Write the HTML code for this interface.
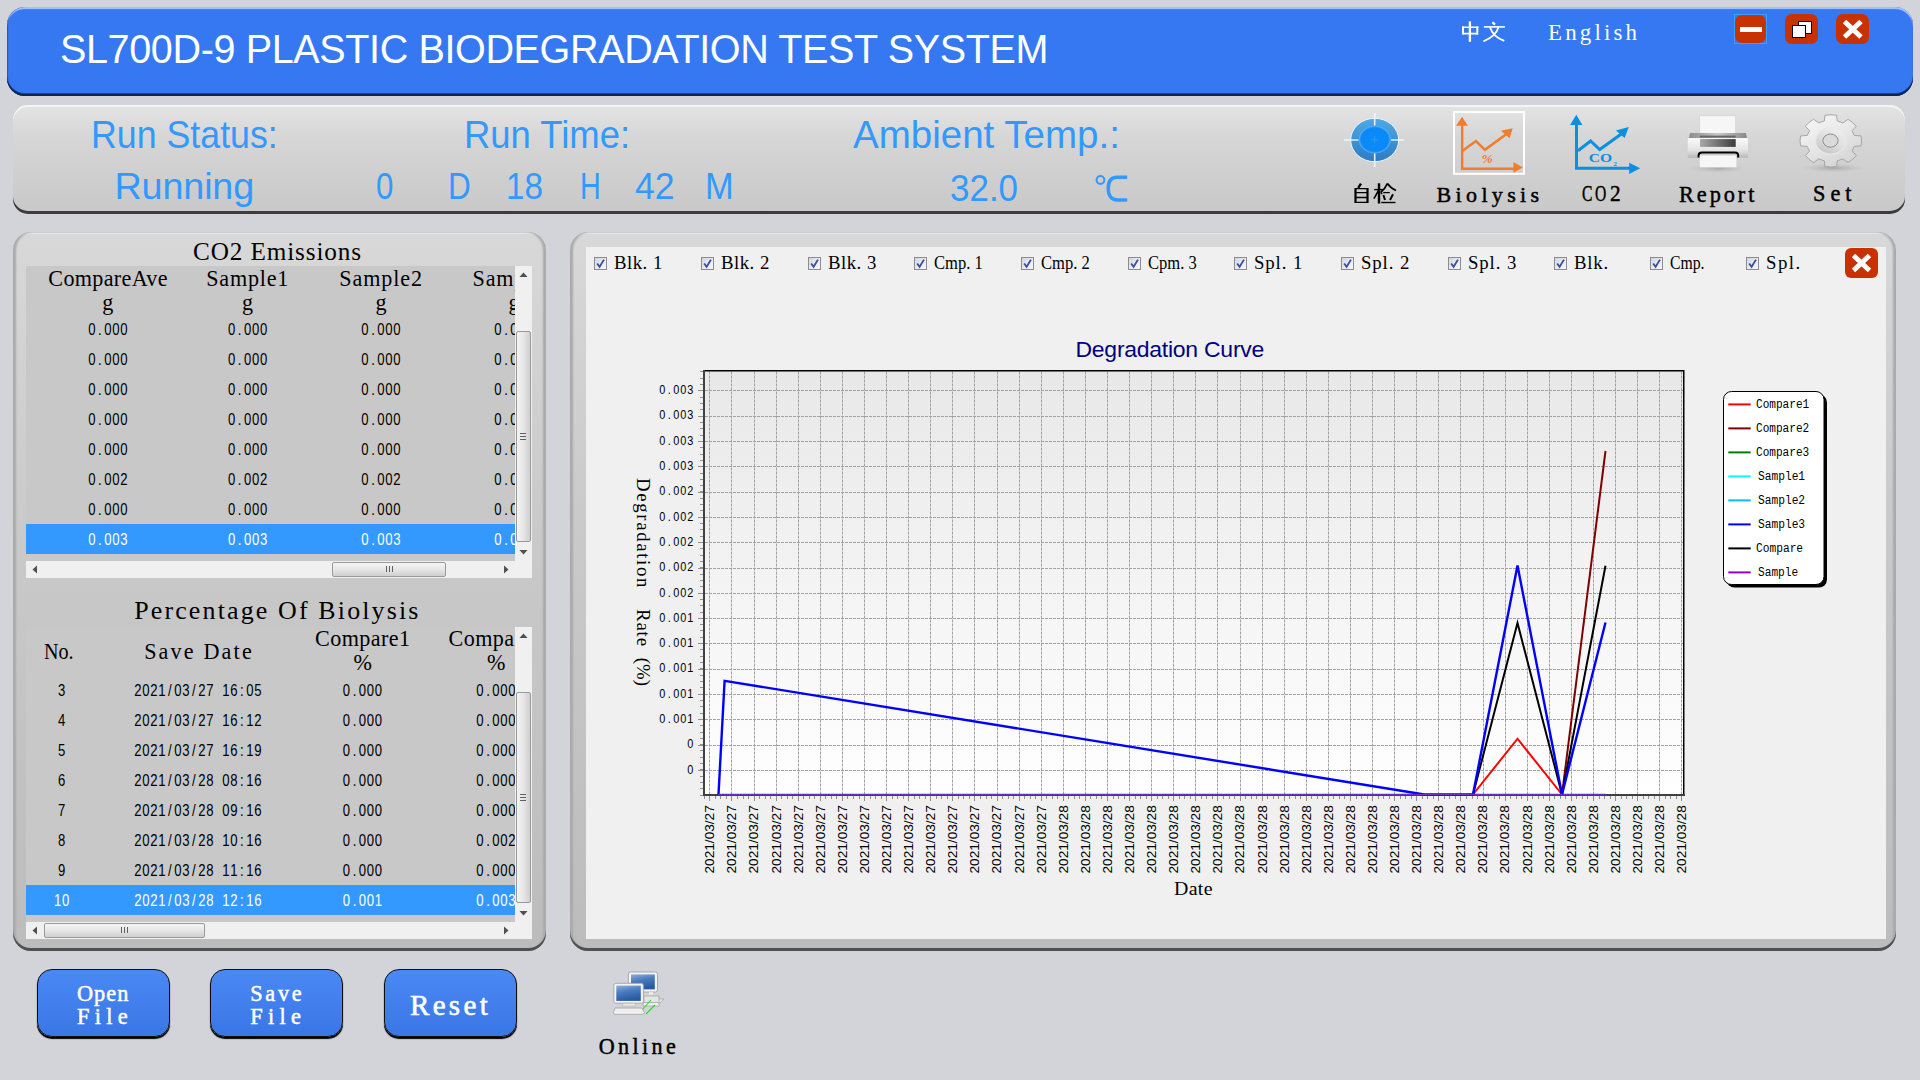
<!DOCTYPE html><html><head><meta charset="utf-8"><style>
*{box-sizing:border-box;margin:0;padding:0}
html,body{width:1920px;height:1080px;overflow:hidden}
body{background:#d3d4d9;position:relative;font-family:"Liberation Sans",sans-serif}
.a{position:absolute;white-space:nowrap}
#title{left:7px;top:7px;width:1906px;height:89px;border-radius:18px;background:#3578f2;
 box-shadow:inset 0 -2px 1px #0e2250, inset 0 -3px 0 #1e4aa0, inset 1px 0 1px rgba(10,30,80,.35), inset 0 2px 1px #a8c8ff;}
.wbtn{width:33px;height:30px;border-radius:7px;background:#c83200}
#status{left:13px;top:105px;width:1892px;height:109px;border-radius:15px;
 background:linear-gradient(#e4e4e4,#d6d6d6 30%,#c8c8c8);box-shadow:inset 0 -3px 0 #3c3c3c, inset 0 2px 0 #f4f4f4}
.panel{border-radius:18px;background:linear-gradient(#d8d8d8,#cacaca 40%,#bcbcbc);
 box-shadow:inset 0 -3px 0 #505050, inset 3px 0 2px #aaa, inset -3px 0 2px #aaa, inset 0 2px 0 #ececec}
.tbl{background:#c8c8c8;overflow:hidden}
.sel{background:#3399ff}
.vsb{background:#f0f0f0}
.thumb{background:linear-gradient(90deg,#f4f4f4,#e6e6e6 50%,#cfcfcf);border:1px solid #9a9a9a;border-radius:2px}
.thumbh{background:linear-gradient(#f4f4f4,#e6e6e6 50%,#cfcfcf);border:1px solid #9a9a9a;border-radius:2px}
.btn{width:133px;height:68px;border-radius:15px;background:linear-gradient(#4a88f4,#3a77e6);border:1px solid #101010;
 box-shadow:0 2px 1px #000, 0 1px 0 #000}
</style></head><body>
<div id="title" class="a"></div>
<div class="a" style="left:60.00px;top:26.41px;font-family:'Liberation Sans';font-size:39.54px;line-height:44.17px;color:#fff;letter-spacing:-0.37px;transform:scale(1.0000,1.0300);transform-origin:0.0px 8.59px;">SL700D-9 PLASTIC BIODEGRADATION TEST SYSTEM</div>
<svg class="a" style="left:1450px;top:15px" width="65" height="35" viewBox="1450 15 65 35">
<g fill="none" stroke="#fff" stroke-linecap="butt">
<path d="M1463 26.5V34.5M1477.3 26.5V34.5" stroke-width="2"/>
<path d="M1462 27.2H1478.5M1462.5 33.6H1478" stroke-width="1.6"/>
<path d="M1469.9 21.3V41.8" stroke-width="2.3"/>
<path d="M1492.4 22.3L1495 24.6" stroke-width="2.2"/>
<path d="M1483.9 26.9H1505" stroke-width="1.6"/>
<path d="M1498.5 27.3Q1496 36 1483.4 41.4" stroke-width="1.8"/>
<path d="M1490 27.3Q1493 37 1504.3 40.8" stroke-width="1.9"/>
</g></svg>
<div class="a" style="left:1548.00px;top:19.59px;font-family:'Liberation Serif';font-size:22.91px;line-height:25.37px;color:#fff;letter-spacing:3.17px;">English</div>
<div class="a" style="left:1734px;top:14px;width:33px;height:30px;border:1px solid #3aa0ff"></div>
<div class="a wbtn" style="left:1735px;top:15px;width:31px;height:28px"></div>
<div class="a" style="left:1740px;top:27px;width:22px;height:5px;background:#fff"></div>
<div class="a wbtn" style="left:1785px;top:14px;"></div>
<div class="a" style="left:1798px;top:21px;width:14px;height:13px;background:#fff;border:1px solid #000"></div>
<div class="a" style="left:1792px;top:25px;width:14px;height:13px;background:#fff;border:1px solid #000"></div>
<div class="a wbtn" style="left:1836px;top:14px;"></div>
<svg class="a" style="left:1836px;top:14px" width="33" height="30"><path d="M8.5 7.5L25 23M25 7.5L8.5 23" stroke="#fff" stroke-width="5"/></svg>
<div id="status" class="a"></div>
<div class="a" style="left:90.60px;top:112.63px;font-family:'Liberation Sans';font-size:38.52px;line-height:43.03px;color:#3399ff;transform:scale(0.9279,1.0000);transform-origin:0.0px 8.37px;">Run Status:</div>
<div class="a" style="left:114.50px;top:165.19px;font-family:'Liberation Sans';font-size:37.79px;line-height:42.22px;color:#3399ff;letter-spacing:-0.17px;">Running</div>
<div class="a" style="left:463.50px;top:112.63px;font-family:'Liberation Sans';font-size:38.52px;line-height:43.03px;color:#3399ff;transform:scale(0.9460,1.0000);transform-origin:0.0px 8.37px;">Run Time:</div>
<div class="a" style="left:375.60px;top:164.79px;font-family:'Liberation Sans';font-size:37.79px;line-height:42.22px;color:#3399ff;transform:scale(0.8286,1.0000);transform-origin:0.0px 8.21px;">0</div>
<div class="a" style="left:447.50px;top:164.79px;font-family:'Liberation Sans';font-size:37.79px;line-height:42.22px;color:#3399ff;transform:scale(0.8333,1.0000);transform-origin:0.0px 8.21px;">D</div>
<div class="a" style="left:506.00px;top:164.79px;font-family:'Liberation Sans';font-size:37.79px;line-height:42.22px;color:#3399ff;transform:scale(0.8810,1.0000);transform-origin:0.0px 8.21px;">18</div>
<div class="a" style="left:580.00px;top:164.79px;font-family:'Liberation Sans';font-size:37.79px;line-height:42.22px;color:#3399ff;transform:scale(0.7630,1.0000);transform-origin:0.0px 8.21px;">H</div>
<div class="a" style="left:635.00px;top:164.79px;font-family:'Liberation Sans';font-size:37.79px;line-height:42.22px;color:#3399ff;transform:scale(0.9429,1.0000);transform-origin:0.0px 8.21px;">42</div>
<div class="a" style="left:704.80px;top:164.79px;font-family:'Liberation Sans';font-size:37.79px;line-height:42.22px;color:#3399ff;transform:scale(0.9097,1.0000);transform-origin:0.0px 8.21px;">M</div>
<div class="a" style="left:853.00px;top:112.63px;font-family:'Liberation Sans';font-size:38.52px;line-height:43.03px;color:#3399ff;">Ambient Temp.:</div>
<div class="a" style="left:950.00px;top:166.79px;font-family:'Liberation Sans';font-size:37.79px;line-height:42.22px;color:#3399ff;transform:scale(0.9257,1.0000);transform-origin:0.0px 8.21px;">32.0</div>
<svg class="a" style="left:1088px;top:168px" width="46" height="38" viewBox="1088 168 46 38"><g fill="none" stroke="#3399ff">
<ellipse cx="1100.45" cy="179.95" rx="3.85" ry="3.95" stroke-width="2.1"/>
<path d="M1127.2 177.3L1117.5 177.3C1111 177.3 1108.2 182 1108.2 188.5C1108.2 195 1111 199.9 1117.5 199.9L1127.2 199.9" stroke-width="3.5"/>
</g></svg>
<svg class="a" style="left:1345px;top:178px" width="60" height="32" viewBox="1345 178 60 32">
<g fill="none" stroke="#000" stroke-linecap="butt">
<path d="M1361 183.6L1358.2 187.8" stroke-width="2.4"/>
<path d="M1355.5 188V203M1367.5 188V203" stroke-width="2.2"/>
<path d="M1355.5 188.6H1367.5M1355.5 192.6H1367.5M1355.5 197.5H1367.5M1355.5 202.4H1367.5" stroke-width="1.3"/>
<path d="M1374.2 189.6H1382.8" stroke-width="1.4"/>
<path d="M1379 183.3V203.5" stroke-width="2.4"/>
<path d="M1378.6 190.5L1373.9 198.7" stroke-width="1.6"/>
<path d="M1380.5 192.5L1382.3 194" stroke-width="1.5"/>
<path d="M1387.4 183.5Q1385 189 1380.8 192.3M1387.4 183.5Q1391 188.5 1396 190.5" stroke-width="1.8"/>
<path d="M1383.2 192.6H1389.8" stroke-width="1.3"/>
<path d="M1383.4 195L1385 200" stroke-width="2"/>
<path d="M1393 194.3L1390 200" stroke-width="2"/>
<path d="M1381.2 202.5H1395.5" stroke-width="1.4"/>
</g></svg>
<div class="a" style="left:1436.60px;top:182.60px;font-family:'Liberation Serif';font-size:21.99px;line-height:24.35px;color:#000;letter-spacing:4.34px;-webkit-text-stroke:0.45px #000">Biolysis</div>
<div class="a" style="left:1582.00px;top:182.23px;font-family:'Liberation Serif';font-size:22.30px;line-height:24.69px;color:#000;transform:scale(0.7000,1.0000);transform-origin:0.0px 5.27px;-webkit-text-stroke:0.45px #000">C</div>
<div class="a" style="left:1595.20px;top:182.23px;font-family:'Liberation Serif';font-size:22.30px;line-height:24.69px;color:#000;transform:scale(0.7000,1.0000);transform-origin:0.0px 5.27px;-webkit-text-stroke:0.45px #000">O</div>
<div class="a" style="left:1609.50px;top:182.23px;font-family:'Liberation Serif';font-size:22.30px;line-height:24.69px;color:#000;transform:scale(0.9545,1.0000);transform-origin:0.0px 5.27px;-webkit-text-stroke:0.45px #000">2</div>
<div class="a" style="left:1679.00px;top:182.53px;font-family:'Liberation Serif';font-size:22.30px;line-height:24.69px;color:#000;letter-spacing:2.94px;-webkit-text-stroke:0.45px #000">Report</div>
<div class="a" style="left:1813.00px;top:182.23px;font-family:'Liberation Serif';font-size:22.30px;line-height:24.69px;color:#000;letter-spacing:5.00px;-webkit-text-stroke:0.45px #000">Set</div>
<svg class="a" style="left:1340px;top:105px" width="70" height="70">
<defs><linearGradient id="tg" x1="0" y1="0" x2="0" y2="1"><stop offset="0" stop-color="#4eaae2"/><stop offset="1" stop-color="#2c7cc4"/></linearGradient>
<radialGradient id="tg2"><stop offset="0" stop-color="#0a8cfa"/><stop offset="0.85" stop-color="#0a88f6"/><stop offset="1" stop-color="#5ab0ff"/></radialGradient></defs>
<ellipse cx="34.7" cy="35" rx="24" ry="21.7" fill="url(#tg)" stroke="#eaf4ff" stroke-width="1"/>
<ellipse cx="34.8" cy="34.6" rx="16" ry="13.8" fill="url(#tg2)"/>
<path d="M34.7 8V20.5M34.7 48.5V62M4 35H18.5M51 35H64" stroke="#f4faff" stroke-width="1.6" opacity="0.9"/>
<path d="M34.7 31V38.5M31 34.8H38.5" stroke="#3a9ae8" stroke-width="0.8"/>
</svg>
<svg class="a" style="left:1445px;top:105px" width="90" height="75">
<rect x="9" y="7.1" width="70" height="61.7" fill="none" stroke="#fff" stroke-width="2"/>
<path d="M17.15 20V63.7H69" stroke="#f07d2d" stroke-width="2.4" fill="none"/>
<path d="M17.15 11.8L11.1 20.7H22.9Z M77.8 62.5L68.4 56.9V67.7Z" fill="#f07d2d"/>
<path d="M17.7 45.8L30.9 36.1L39.9 44.8L61.5 29" stroke="#f07d2d" stroke-width="2.5" fill="none" stroke-linejoin="miter"/>
<path d="M67.7 23.3L55.9 25.7L64.6 33.3Z" fill="#f07d2d"/>
<text x="36.5" y="57.6" font-family="Liberation Serif" font-style="italic" font-weight="bold" font-size="11.5" textLength="11.4" lengthAdjust="spacingAndGlyphs" fill="#f07d2d">%</text>
</svg>
<svg class="a" style="left:1565px;top:108px" width="80" height="70">
<path d="M11.5 16V60.3H65" stroke="#0a90e0" stroke-width="3" fill="none"/>
<path d="M11.3 6.8L5.1 17H17.4Z M75.2 60.3L64.2 54.8V66.1Z" fill="#0a90e0"/>
<path d="M13 42.8L25.6 33L34.7 41.5L57 25.5" stroke="#0a90e0" stroke-width="3" fill="none"/>
<path d="M63.8 19.1L50.9 22.4L59.6 30.1Z" fill="#0a90e0"/>
<text x="23.7" y="54.1" font-family="Liberation Serif" font-weight="bold" font-size="12.9" textLength="23.4" lengthAdjust="spacingAndGlyphs" fill="#0a90e0">CO</text>
<text x="48.4" y="57.8" font-family="Liberation Serif" font-weight="bold" font-size="6.8" fill="#0a90e0">2</text>
</svg>
<svg class="a" style="left:1680px;top:108px" width="80" height="70">
<defs>
<radialGradient id="psh" cx="0.5" cy="0.5" r="0.5"><stop offset="0" stop-color="#9a9a9a" stop-opacity="0.7"/><stop offset="1" stop-color="#bbb" stop-opacity="0"/></radialGradient>
<linearGradient id="pbody" x1="0" y1="0" x2="0" y2="1"><stop offset="0" stop-color="#fafafa"/><stop offset="0.6" stop-color="#e4e4e4"/><stop offset="1" stop-color="#b8b8b8"/></linearGradient>
<linearGradient id="pwin" x1="0" y1="0" x2="1" y2="0"><stop offset="0" stop-color="#a8a8a8"/><stop offset="1" stop-color="#3c3c3c"/></linearGradient>
<linearGradient id="ptray" x1="0" y1="0" x2="1" y2="0"><stop offset="0" stop-color="#8c8c8c"/><stop offset="0.5" stop-color="#c8c8c8"/><stop offset="1" stop-color="#888"/></linearGradient>
</defs>
<ellipse cx="38" cy="60.5" rx="30" ry="4.5" fill="url(#psh)"/>
<rect x="19.8" y="7.8" width="35.9" height="20" fill="#f6f6f6" stroke="#d0d0d0" stroke-width="0.6"/>
<path d="M10 25H66L67 30H9Z" fill="url(#ptray)"/>
<rect x="19.8" y="27.6" width="35.9" height="2" fill="#666"/>
<rect x="7.8" y="30.1" width="60.2" height="19.8" fill="url(#pbody)"/>
<rect x="20" y="31.1" width="35.7" height="7.8" fill="url(#pwin)"/>
<path d="M18.6 49.5V47.5Q18.6 44.5 22 44.5H55Q58.2 44.5 58.2 47.5V49.5" stroke="#000" stroke-width="2" fill="none"/>
<rect x="19.8" y="47.4" width="36.6" height="11.9" fill="#f6f6f6"/>
</svg>
<svg class="a" style="left:1795px;top:108px" width="80" height="70">
<defs>
<radialGradient id="gsh" cx="0.5" cy="0.5" r="0.5"><stop offset="0" stop-color="#9a9a9a" stop-opacity="0.75"/><stop offset="1" stop-color="#bbb" stop-opacity="0"/></radialGradient>
<linearGradient id="gg" x1="0.2" y1="0" x2="0.8" y2="1"><stop offset="0" stop-color="#f6f6f6"/><stop offset="0.5" stop-color="#e6e6e6"/><stop offset="1" stop-color="#d2d2d2"/></linearGradient>
<linearGradient id="gr" x1="0.8" y1="0" x2="0.2" y2="1"><stop offset="0" stop-color="#f0f0f0"/><stop offset="0.55" stop-color="#dcdcdc"/><stop offset="1" stop-color="#c4c4c4"/></linearGradient>
</defs>
<ellipse cx="38" cy="60" rx="32" ry="4.5" fill="url(#gsh)"/>
<path d="M29.32 13.05L29.98 7.27A30.80 26.10 0 0 1 41.62 7.27L42.28 13.05A24.31 20.60 0 0 1 47.78 14.98L53.07 11.29A30.80 26.10 0 0 1 61.30 18.26L56.95 22.75A24.31 20.60 0 0 1 59.23 27.41L66.04 27.97A30.80 26.10 0 0 1 66.04 37.83L59.23 38.39A24.31 20.60 0 0 1 56.95 43.05L61.30 47.54A30.80 26.10 0 0 1 53.07 54.51L47.78 50.82A24.31 20.60 0 0 1 42.28 52.75L41.62 58.53A30.80 26.10 0 0 1 29.98 58.53L29.32 52.75A24.31 20.60 0 0 1 23.82 50.82L18.53 54.51A30.80 26.10 0 0 1 10.30 47.54L14.65 43.05A24.31 20.60 0 0 1 12.37 38.39L5.56 37.83A30.80 26.10 0 0 1 5.56 27.97L12.37 27.41A24.31 20.60 0 0 1 14.65 22.75L10.30 18.26A30.80 26.10 0 0 1 18.53 11.29L23.82 14.98A24.31 20.60 0 0 1 29.32 13.05Z" fill="url(#gg)" stroke="#a6a6a6" stroke-width="1"/>
<ellipse cx="35.8" cy="32.9" rx="15.2" ry="13.2" fill="url(#gr)" stroke="#e8e8e8" stroke-width="1.2"/>
<ellipse cx="35.5" cy="32.6" rx="7.6" ry="6.6" fill="#dadada" stroke="#8c8c8c" stroke-width="1"/>
</svg>
<div class="a panel" style="left:13px;top:232px;width:533px;height:719px"></div>
<div class="a panel" style="left:570px;top:232px;width:1326px;height:719px"></div>
<div class="a" style="left:586px;top:247px;width:1300px;height:692px;background:#f0f0f0"></div>
<div class="a" style="left:193.00px;top:237.54px;font-family:'Liberation Serif';font-size:25.20px;line-height:27.91px;color:#000;letter-spacing:0.89px;">CO2 Emissions</div>
<div class="a tbl" style="left:26px;top:266px;width:489px;height:295px">
<div class="a" style="left:0;top:0;width:489px;height:295px">
<div class="a" style="left:22.30px;top:0.97px;font-family:'Liberation Serif';font-size:22.14px;line-height:24.52px;color:#000;letter-spacing:0.33px;">CompareAve</div>
<div class="a" style="left:76.30px;top:24.57px;font-family:'Liberation Serif';font-size:22.14px;line-height:24.52px;color:#000;">g</div>
<div class="a" style="left:180.30px;top:0.97px;font-family:'Liberation Serif';font-size:22.14px;line-height:24.52px;color:#000;letter-spacing:0.77px;">Sample1</div>
<div class="a" style="left:216.10px;top:24.57px;font-family:'Liberation Serif';font-size:22.14px;line-height:24.52px;color:#000;">g</div>
<div class="a" style="left:313.35px;top:0.97px;font-family:'Liberation Serif';font-size:22.14px;line-height:24.52px;color:#000;letter-spacing:0.88px;">Sample2</div>
<div class="a" style="left:349.50px;top:24.57px;font-family:'Liberation Serif';font-size:22.14px;line-height:24.52px;color:#000;">g</div>
<div class="a" style="left:446.50px;top:0.97px;font-family:'Liberation Serif';font-size:22.14px;line-height:24.52px;color:#000;letter-spacing:0.83px;">Sample3</div>
<div class="a" style="left:482.50px;top:24.57px;font-family:'Liberation Serif';font-size:22.14px;line-height:24.52px;color:#000;">g</div>
<div class="a sel" style="left:0;top:258px;width:489px;height:30px"></div>
<svg class="a" style="left:0;top:0" width="489" height="295">
<text transform="scale(0.83 1)" x="74.88 86.72 94.16 103.79 113.43" y="68.90" font-family="Liberation Sans" font-size="15.82" fill="#000">0.000</text>
<text transform="scale(0.83 1)" x="243.31 255.15 262.59 272.23 281.87" y="68.90" font-family="Liberation Sans" font-size="15.82" fill="#000">0.000</text>
<text transform="scale(0.83 1)" x="404.03 415.87 423.31 432.95 442.59" y="68.90" font-family="Liberation Sans" font-size="15.82" fill="#000">0.000</text>
<text transform="scale(0.83 1)" x="564.28 576.12 583.55 593.19 602.83" y="68.90" font-family="Liberation Sans" font-size="15.82" fill="#000">0.000</text>
<text transform="scale(0.83 1)" x="74.88 86.72 94.16 103.79 113.43" y="98.90" font-family="Liberation Sans" font-size="15.82" fill="#000">0.000</text>
<text transform="scale(0.83 1)" x="243.31 255.15 262.59 272.23 281.87" y="98.90" font-family="Liberation Sans" font-size="15.82" fill="#000">0.000</text>
<text transform="scale(0.83 1)" x="404.03 415.87 423.31 432.95 442.59" y="98.90" font-family="Liberation Sans" font-size="15.82" fill="#000">0.000</text>
<text transform="scale(0.83 1)" x="564.28 576.12 583.55 593.19 602.83" y="98.90" font-family="Liberation Sans" font-size="15.82" fill="#000">0.000</text>
<text transform="scale(0.83 1)" x="74.88 86.72 94.16 103.79 113.43" y="128.90" font-family="Liberation Sans" font-size="15.82" fill="#000">0.000</text>
<text transform="scale(0.83 1)" x="243.31 255.15 262.59 272.23 281.87" y="128.90" font-family="Liberation Sans" font-size="15.82" fill="#000">0.000</text>
<text transform="scale(0.83 1)" x="404.03 415.87 423.31 432.95 442.59" y="128.90" font-family="Liberation Sans" font-size="15.82" fill="#000">0.000</text>
<text transform="scale(0.83 1)" x="564.28 576.12 583.55 593.19 602.83" y="128.90" font-family="Liberation Sans" font-size="15.82" fill="#000">0.000</text>
<text transform="scale(0.83 1)" x="74.88 86.72 94.16 103.79 113.43" y="158.90" font-family="Liberation Sans" font-size="15.82" fill="#000">0.000</text>
<text transform="scale(0.83 1)" x="243.31 255.15 262.59 272.23 281.87" y="158.90" font-family="Liberation Sans" font-size="15.82" fill="#000">0.000</text>
<text transform="scale(0.83 1)" x="404.03 415.87 423.31 432.95 442.59" y="158.90" font-family="Liberation Sans" font-size="15.82" fill="#000">0.000</text>
<text transform="scale(0.83 1)" x="564.28 576.12 583.55 593.19 602.83" y="158.90" font-family="Liberation Sans" font-size="15.82" fill="#000">0.000</text>
<text transform="scale(0.83 1)" x="74.88 86.72 94.16 103.79 113.43" y="188.90" font-family="Liberation Sans" font-size="15.82" fill="#000">0.000</text>
<text transform="scale(0.83 1)" x="243.31 255.15 262.59 272.23 281.87" y="188.90" font-family="Liberation Sans" font-size="15.82" fill="#000">0.000</text>
<text transform="scale(0.83 1)" x="404.03 415.87 423.31 432.95 442.59" y="188.90" font-family="Liberation Sans" font-size="15.82" fill="#000">0.000</text>
<text transform="scale(0.83 1)" x="564.28 576.12 583.55 593.19 602.83" y="188.90" font-family="Liberation Sans" font-size="15.82" fill="#000">0.000</text>
<text transform="scale(0.83 1)" x="74.88 86.72 94.16 103.79 113.43" y="218.90" font-family="Liberation Sans" font-size="15.82" fill="#000">0.002</text>
<text transform="scale(0.83 1)" x="243.31 255.15 262.59 272.23 281.87" y="218.90" font-family="Liberation Sans" font-size="15.82" fill="#000">0.002</text>
<text transform="scale(0.83 1)" x="404.03 415.87 423.31 432.95 442.59" y="218.90" font-family="Liberation Sans" font-size="15.82" fill="#000">0.002</text>
<text transform="scale(0.83 1)" x="564.28 576.12 583.55 593.19 602.83" y="218.90" font-family="Liberation Sans" font-size="15.82" fill="#000">0.002</text>
<text transform="scale(0.83 1)" x="74.88 86.72 94.16 103.79 113.43" y="248.90" font-family="Liberation Sans" font-size="15.82" fill="#000">0.000</text>
<text transform="scale(0.83 1)" x="243.31 255.15 262.59 272.23 281.87" y="248.90" font-family="Liberation Sans" font-size="15.82" fill="#000">0.000</text>
<text transform="scale(0.83 1)" x="404.03 415.87 423.31 432.95 442.59" y="248.90" font-family="Liberation Sans" font-size="15.82" fill="#000">0.000</text>
<text transform="scale(0.83 1)" x="564.28 576.12 583.55 593.19 602.83" y="248.90" font-family="Liberation Sans" font-size="15.82" fill="#000">0.000</text>
<text transform="scale(0.83 1)" x="74.88 86.72 94.16 103.79 113.43" y="278.90" font-family="Liberation Sans" font-size="15.82" fill="#fff">0.003</text>
<text transform="scale(0.83 1)" x="243.31 255.15 262.59 272.23 281.87" y="278.90" font-family="Liberation Sans" font-size="15.82" fill="#fff">0.003</text>
<text transform="scale(0.83 1)" x="404.03 415.87 423.31 432.95 442.59" y="278.90" font-family="Liberation Sans" font-size="15.82" fill="#fff">0.003</text>
<text transform="scale(0.83 1)" x="564.28 576.12 583.55 593.19 602.83" y="278.90" font-family="Liberation Sans" font-size="15.82" fill="#fff">0.003</text>
</svg>
</div></div>
<div class="a" style="left:134.20px;top:596.86px;font-family:'Liberation Serif';font-size:25.96px;line-height:28.75px;color:#000;letter-spacing:2.14px;">Percentage Of Biolysis</div>
<div class="a tbl" style="left:26px;top:627px;width:489px;height:295px">
<div class="a" style="left:18.00px;top:13.27px;font-family:'Liberation Serif';font-size:22.14px;line-height:24.52px;color:#000;transform:scale(0.9091,1.0000);transform-origin:0.0px 5.23px;">No.</div>
<div class="a" style="left:118.15px;top:13.27px;font-family:'Liberation Serif';font-size:22.14px;line-height:24.52px;color:#000;letter-spacing:2.16px;">Save Date</div>
<div class="a" style="left:289.00px;top:0.07px;font-family:'Liberation Serif';font-size:22.14px;line-height:24.52px;color:#000;letter-spacing:0.43px;">Compare1</div>
<div class="a" style="left:327.50px;top:23.97px;font-family:'Liberation Serif';font-size:22.14px;line-height:24.52px;color:#000;">%</div>
<div class="a" style="left:422.50px;top:0.07px;font-family:'Liberation Serif';font-size:22.14px;line-height:24.52px;color:#000;letter-spacing:0.43px;">Compare2</div>
<div class="a" style="left:461.00px;top:23.97px;font-family:'Liberation Serif';font-size:22.14px;line-height:24.52px;color:#000;">%</div>
<div class="a sel" style="left:0;top:258px;width:489px;height:30px"></div>
<svg class="a" style="left:0;top:0" width="489" height="295">
<text transform="scale(0.83 1)" x="38.49" y="68.90" font-family="Liberation Sans" font-size="15.82" fill="#000">3</text>
<text transform="scale(0.83 1)" x="130.30 139.94 149.58 159.22 171.06 178.49 188.13 199.97 207.41 217.05 228.89 236.32 245.96 257.80 265.24 274.88" y="68.90" font-family="Liberation Sans" font-size="15.82" fill="#000">2021/03/27 16:05</text>
<text transform="scale(0.83 1)" x="381.75 393.59 401.02 410.66 420.30" y="68.90" font-family="Liberation Sans" font-size="15.82" fill="#000">0.000</text>
<text transform="scale(0.83 1)" x="542.59 554.43 561.87 571.50 581.14" y="68.90" font-family="Liberation Sans" font-size="15.82" fill="#000">0.000</text>
<text transform="scale(0.83 1)" x="38.49" y="98.90" font-family="Liberation Sans" font-size="15.82" fill="#000">4</text>
<text transform="scale(0.83 1)" x="130.30 139.94 149.58 159.22 171.06 178.49 188.13 199.97 207.41 217.05 228.89 236.32 245.96 257.80 265.24 274.88" y="98.90" font-family="Liberation Sans" font-size="15.82" fill="#000">2021/03/27 16:12</text>
<text transform="scale(0.83 1)" x="381.75 393.59 401.02 410.66 420.30" y="98.90" font-family="Liberation Sans" font-size="15.82" fill="#000">0.000</text>
<text transform="scale(0.83 1)" x="542.59 554.43 561.87 571.50 581.14" y="98.90" font-family="Liberation Sans" font-size="15.82" fill="#000">0.000</text>
<text transform="scale(0.83 1)" x="38.49" y="128.90" font-family="Liberation Sans" font-size="15.82" fill="#000">5</text>
<text transform="scale(0.83 1)" x="130.30 139.94 149.58 159.22 171.06 178.49 188.13 199.97 207.41 217.05 228.89 236.32 245.96 257.80 265.24 274.88" y="128.90" font-family="Liberation Sans" font-size="15.82" fill="#000">2021/03/27 16:19</text>
<text transform="scale(0.83 1)" x="381.75 393.59 401.02 410.66 420.30" y="128.90" font-family="Liberation Sans" font-size="15.82" fill="#000">0.000</text>
<text transform="scale(0.83 1)" x="542.59 554.43 561.87 571.50 581.14" y="128.90" font-family="Liberation Sans" font-size="15.82" fill="#000">0.000</text>
<text transform="scale(0.83 1)" x="38.49" y="158.90" font-family="Liberation Sans" font-size="15.82" fill="#000">6</text>
<text transform="scale(0.83 1)" x="130.30 139.94 149.58 159.22 171.06 178.49 188.13 199.97 207.41 217.05 228.89 236.32 245.96 257.80 265.24 274.88" y="158.90" font-family="Liberation Sans" font-size="15.82" fill="#000">2021/03/28 08:16</text>
<text transform="scale(0.83 1)" x="381.75 393.59 401.02 410.66 420.30" y="158.90" font-family="Liberation Sans" font-size="15.82" fill="#000">0.000</text>
<text transform="scale(0.83 1)" x="542.59 554.43 561.87 571.50 581.14" y="158.90" font-family="Liberation Sans" font-size="15.82" fill="#000">0.000</text>
<text transform="scale(0.83 1)" x="38.49" y="188.90" font-family="Liberation Sans" font-size="15.82" fill="#000">7</text>
<text transform="scale(0.83 1)" x="130.30 139.94 149.58 159.22 171.06 178.49 188.13 199.97 207.41 217.05 228.89 236.32 245.96 257.80 265.24 274.88" y="188.90" font-family="Liberation Sans" font-size="15.82" fill="#000">2021/03/28 09:16</text>
<text transform="scale(0.83 1)" x="381.75 393.59 401.02 410.66 420.30" y="188.90" font-family="Liberation Sans" font-size="15.82" fill="#000">0.000</text>
<text transform="scale(0.83 1)" x="542.59 554.43 561.87 571.50 581.14" y="188.90" font-family="Liberation Sans" font-size="15.82" fill="#000">0.000</text>
<text transform="scale(0.83 1)" x="38.49" y="218.90" font-family="Liberation Sans" font-size="15.82" fill="#000">8</text>
<text transform="scale(0.83 1)" x="130.30 139.94 149.58 159.22 171.06 178.49 188.13 199.97 207.41 217.05 228.89 236.32 245.96 257.80 265.24 274.88" y="218.90" font-family="Liberation Sans" font-size="15.82" fill="#000">2021/03/28 10:16</text>
<text transform="scale(0.83 1)" x="381.75 393.59 401.02 410.66 420.30" y="218.90" font-family="Liberation Sans" font-size="15.82" fill="#000">0.000</text>
<text transform="scale(0.83 1)" x="542.59 554.43 561.87 571.50 581.14" y="218.90" font-family="Liberation Sans" font-size="15.82" fill="#000">0.002</text>
<text transform="scale(0.83 1)" x="38.49" y="248.90" font-family="Liberation Sans" font-size="15.82" fill="#000">9</text>
<text transform="scale(0.83 1)" x="130.30 139.94 149.58 159.22 171.06 178.49 188.13 199.97 207.41 217.05 228.89 236.32 245.96 257.80 265.24 274.88" y="248.90" font-family="Liberation Sans" font-size="15.82" fill="#000">2021/03/28 11:16</text>
<text transform="scale(0.83 1)" x="381.75 393.59 401.02 410.66 420.30" y="248.90" font-family="Liberation Sans" font-size="15.82" fill="#000">0.000</text>
<text transform="scale(0.83 1)" x="542.59 554.43 561.87 571.50 581.14" y="248.90" font-family="Liberation Sans" font-size="15.82" fill="#000">0.000</text>
<text transform="scale(0.83 1)" x="33.67 43.31" y="278.90" font-family="Liberation Sans" font-size="15.82" fill="#fff">10</text>
<text transform="scale(0.83 1)" x="130.30 139.94 149.58 159.22 171.06 178.49 188.13 199.97 207.41 217.05 228.89 236.32 245.96 257.80 265.24 274.88" y="278.90" font-family="Liberation Sans" font-size="15.82" fill="#fff">2021/03/28 12:16</text>
<text transform="scale(0.83 1)" x="381.75 393.59 401.02 410.66 420.30" y="278.90" font-family="Liberation Sans" font-size="15.82" fill="#fff">0.001</text>
<text transform="scale(0.83 1)" x="542.59 554.43 561.87 571.50 581.14" y="278.90" font-family="Liberation Sans" font-size="15.82" fill="#fff">0.003</text>
</svg>
</div>
<div class="a vsb" style="left:515px;top:266px;width:17px;height:295px"></div>
<svg class="a" style="left:515px;top:266px" width="17" height="17"><path d="M4.5 11L8.5 6.5L12.5 11Z" fill="#505050"/></svg>
<svg class="a" style="left:515px;top:544px" width="17" height="17"><path d="M4.5 6L8.5 10.5L12.5 6Z" fill="#505050"/></svg>
<div class="a thumb" style="left:516px;top:331px;width:15px;height:211px"></div>
<svg class="a" style="left:515px;top:432px" width="17" height="9"><path d="M5 1.5H11M5 4.5H11M5 7.5H11" stroke="#606060" stroke-width="1"/></svg>
<div class="a vsb" style="left:26px;top:561px;width:489px;height:17px"></div>
<svg class="a" style="left:26px;top:561px" width="17" height="17"><path d="M11 4.5L6.5 8.5L11 12.5Z" fill="#505050"/></svg>
<svg class="a" style="left:498px;top:561px" width="17" height="17"><path d="M6 4.5L10.5 8.5L6 12.5Z" fill="#505050"/></svg>
<div class="a thumbh" style="left:332px;top:562px;width:114px;height:15px"></div>
<svg class="a" style="left:385px;top:561px" width="9" height="17"><path d="M1.5 5V11M4.5 5V11M7.5 5V11" stroke="#606060" stroke-width="1"/></svg>
<div class="a vsb" style="left:515px;top:561px;width:17px;height:17px"></div>
<div class="a vsb" style="left:515px;top:627px;width:17px;height:295px"></div>
<svg class="a" style="left:515px;top:627px" width="17" height="17"><path d="M4.5 11L8.5 6.5L12.5 11Z" fill="#505050"/></svg>
<svg class="a" style="left:515px;top:905px" width="17" height="17"><path d="M4.5 6L8.5 10.5L12.5 6Z" fill="#505050"/></svg>
<div class="a thumb" style="left:516px;top:692px;width:15px;height:211px"></div>
<svg class="a" style="left:515px;top:793px" width="17" height="9"><path d="M5 1.5H11M5 4.5H11M5 7.5H11" stroke="#606060" stroke-width="1"/></svg>
<div class="a vsb" style="left:26px;top:922px;width:489px;height:17px"></div>
<svg class="a" style="left:26px;top:922px" width="17" height="17"><path d="M11 4.5L6.5 8.5L11 12.5Z" fill="#505050"/></svg>
<svg class="a" style="left:498px;top:922px" width="17" height="17"><path d="M6 4.5L10.5 8.5L6 12.5Z" fill="#505050"/></svg>
<div class="a thumbh" style="left:44px;top:923px;width:161px;height:15px"></div>
<svg class="a" style="left:120px;top:922px" width="9" height="17"><path d="M1.5 5V11M4.5 5V11M7.5 5V11" stroke="#606060" stroke-width="1"/></svg>
<div class="a vsb" style="left:515px;top:922px;width:17px;height:17px"></div>
<svg class="a" style="left:586px;top:247px" width="1299" height="692" viewBox="586 247 1299 692">
<defs>
<linearGradient id="plotbg" x1="0" y1="0" x2="0" y2="1"><stop offset="0" stop-color="#e8e8e8"/><stop offset="1" stop-color="#ffffff"/></linearGradient>
<linearGradient id="cbg" x1="0" y1="0" x2="1" y2="1"><stop offset="0" stop-color="#cdd3e0"/><stop offset="0.6" stop-color="#eceef2"/><stop offset="1" stop-color="#f8f8f8"/></linearGradient>
</defs>
<rect x="594.5" y="257.5" width="12" height="12" fill="url(#cbg)" stroke="#8c8c8c" stroke-width="1"/>
<path d="M597.2 263.5L599.6 266.8L604 259.6" stroke="#3a4f9a" stroke-width="1.8" fill="none"/>
<rect x="701.5" y="257.5" width="12" height="12" fill="url(#cbg)" stroke="#8c8c8c" stroke-width="1"/>
<path d="M704.2 263.5L706.6 266.8L711 259.6" stroke="#3a4f9a" stroke-width="1.8" fill="none"/>
<rect x="808.5" y="257.5" width="12" height="12" fill="url(#cbg)" stroke="#8c8c8c" stroke-width="1"/>
<path d="M811.2 263.5L813.6 266.8L818 259.6" stroke="#3a4f9a" stroke-width="1.8" fill="none"/>
<rect x="914.5" y="257.5" width="12" height="12" fill="url(#cbg)" stroke="#8c8c8c" stroke-width="1"/>
<path d="M917.2 263.5L919.6 266.8L924 259.6" stroke="#3a4f9a" stroke-width="1.8" fill="none"/>
<rect x="1021.5" y="257.5" width="12" height="12" fill="url(#cbg)" stroke="#8c8c8c" stroke-width="1"/>
<path d="M1024.2 263.5L1026.6 266.8L1031 259.6" stroke="#3a4f9a" stroke-width="1.8" fill="none"/>
<rect x="1128.5" y="257.5" width="12" height="12" fill="url(#cbg)" stroke="#8c8c8c" stroke-width="1"/>
<path d="M1131.2 263.5L1133.6 266.8L1138 259.6" stroke="#3a4f9a" stroke-width="1.8" fill="none"/>
<rect x="1234.5" y="257.5" width="12" height="12" fill="url(#cbg)" stroke="#8c8c8c" stroke-width="1"/>
<path d="M1237.2 263.5L1239.6 266.8L1244 259.6" stroke="#3a4f9a" stroke-width="1.8" fill="none"/>
<rect x="1341.5" y="257.5" width="12" height="12" fill="url(#cbg)" stroke="#8c8c8c" stroke-width="1"/>
<path d="M1344.2 263.5L1346.6 266.8L1351 259.6" stroke="#3a4f9a" stroke-width="1.8" fill="none"/>
<rect x="1448.5" y="257.5" width="12" height="12" fill="url(#cbg)" stroke="#8c8c8c" stroke-width="1"/>
<path d="M1451.2 263.5L1453.6 266.8L1458 259.6" stroke="#3a4f9a" stroke-width="1.8" fill="none"/>
<rect x="1554.5" y="257.5" width="12" height="12" fill="url(#cbg)" stroke="#8c8c8c" stroke-width="1"/>
<path d="M1557.2 263.5L1559.6 266.8L1564 259.6" stroke="#3a4f9a" stroke-width="1.8" fill="none"/>
<rect x="1650.5" y="257.5" width="12" height="12" fill="url(#cbg)" stroke="#8c8c8c" stroke-width="1"/>
<path d="M1653.2 263.5L1655.6 266.8L1660 259.6" stroke="#3a4f9a" stroke-width="1.8" fill="none"/>
<rect x="1746.5" y="257.5" width="12" height="12" fill="url(#cbg)" stroke="#8c8c8c" stroke-width="1"/>
<path d="M1749.2 263.5L1751.6 266.8L1756 259.6" stroke="#3a4f9a" stroke-width="1.8" fill="none"/>
</svg>
<div class="a" style="left:614.00px;top:252.86px;font-family:'Liberation Serif';font-size:18.78px;line-height:20.80px;color:#000;letter-spacing:0.50px;">Blk. 1</div>
<div class="a" style="left:721.00px;top:252.86px;font-family:'Liberation Serif';font-size:18.78px;line-height:20.80px;color:#000;letter-spacing:0.50px;">Blk. 2</div>
<div class="a" style="left:828.00px;top:252.86px;font-family:'Liberation Serif';font-size:18.78px;line-height:20.80px;color:#000;letter-spacing:0.50px;">Blk. 3</div>
<div class="a" style="left:934.00px;top:252.86px;font-family:'Liberation Serif';font-size:18.78px;line-height:20.80px;color:#000;transform:scale(0.8818,1.0000);transform-origin:0.0px 4.44px;">Cmp. 1</div>
<div class="a" style="left:1041.00px;top:252.86px;font-family:'Liberation Serif';font-size:18.78px;line-height:20.80px;color:#000;transform:scale(0.8818,1.0000);transform-origin:0.0px 4.44px;">Cmp. 2</div>
<div class="a" style="left:1148.00px;top:252.86px;font-family:'Liberation Serif';font-size:18.78px;line-height:20.80px;color:#000;transform:scale(0.8818,1.0000);transform-origin:0.0px 4.44px;">Cpm. 3</div>
<div class="a" style="left:1254.00px;top:252.86px;font-family:'Liberation Serif';font-size:18.78px;line-height:20.80px;color:#000;letter-spacing:0.90px;">Spl. 1</div>
<div class="a" style="left:1361.00px;top:252.86px;font-family:'Liberation Serif';font-size:18.78px;line-height:20.80px;color:#000;letter-spacing:0.90px;">Spl. 2</div>
<div class="a" style="left:1468.00px;top:252.86px;font-family:'Liberation Serif';font-size:18.78px;line-height:20.80px;color:#000;letter-spacing:0.90px;">Spl. 3</div>
<div class="a" style="left:1574.00px;top:252.86px;font-family:'Liberation Serif';font-size:18.78px;line-height:20.80px;color:#000;letter-spacing:0.80px;">Blk.</div>
<div class="a" style="left:1670.00px;top:252.86px;font-family:'Liberation Serif';font-size:18.78px;line-height:20.80px;color:#000;transform:scale(0.8390,1.0000);transform-origin:0.0px 4.44px;">Cmp.</div>
<div class="a" style="left:1766.00px;top:252.86px;font-family:'Liberation Serif';font-size:18.78px;line-height:20.80px;color:#000;letter-spacing:1.47px;">Spl.</div>
<div class="a" style="left:1845px;top:248px;width:33px;height:30px;border-radius:6px;background:#c83200"></div>
<svg class="a" style="left:1845px;top:248px" width="33" height="30"><path d="M8.5 7.5L24.5 22.5M24.5 7.5L8.5 22.5" stroke="#fff" stroke-width="5"/></svg>
<div class="a" style="left:1075.50px;top:336.51px;font-family:'Liberation Sans';font-size:22.97px;line-height:25.66px;color:#000080;letter-spacing:-0.25px;">Degradation Curve</div>
<svg class="a" style="left:586px;top:247px" width="1299" height="692" viewBox="586 247 1299 692">
<rect x="703" y="370" width="982" height="426" fill="url(#plotbg2)"/>
<defs><linearGradient id="plotbg2" x1="0" y1="0" x2="0" y2="1"><stop offset="0" stop-color="#e8e8e8"/><stop offset="1" stop-color="#ffffff"/></linearGradient></defs>
<path d="M709.5 371.5V794M731.5 371.5V794M754.5 371.5V794M776.5 371.5V794M798.5 371.5V794M820.5 371.5V794M842.5 371.5V794M864.5 371.5V794M886.5 371.5V794M908.5 371.5V794M930.5 371.5V794M952.5 371.5V794M974.5 371.5V794M997.5 371.5V794M1019.5 371.5V794M1041.5 371.5V794M1063.5 371.5V794M1085.5 371.5V794M1107.5 371.5V794M1129.5 371.5V794M1151.5 371.5V794M1173.5 371.5V794M1195.5 371.5V794M1217.5 371.5V794M1240.5 371.5V794M1262.5 371.5V794M1284.5 371.5V794M1306.5 371.5V794M1328.5 371.5V794M1350.5 371.5V794M1372.5 371.5V794M1394.5 371.5V794M1416.5 371.5V794M1438.5 371.5V794M1460.5 371.5V794M1483.5 371.5V794M1505.5 371.5V794M1527.5 371.5V794M1549.5 371.5V794M1571.5 371.5V794M1593.5 371.5V794M1615.5 371.5V794M1637.5 371.5V794M1659.5 371.5V794M1681.5 371.5V794" stroke="#a2a2a2" stroke-width="1" stroke-dasharray="3 1" fill="none"/>
<path d="M705 390.5H1683M705 416.5H1683M705 441.5H1683M705 466.5H1683M705 492.5H1683M705 517.5H1683M705 542.5H1683M705 568.5H1683M705 593.5H1683M705 618.5H1683M705 643.5H1683M705 669.5H1683M705 694.5H1683M705 719.5H1683M705 745.5H1683M705 770.5H1683" stroke="#a2a2a2" stroke-width="1" stroke-dasharray="3 1" fill="none"/>
<path d="M698 390.5H703M698 416.5H703M698 441.5H703M698 466.5H703M698 492.5H703M698 517.5H703M698 542.5H703M698 568.5H703M698 593.5H703M698 618.5H703M698 643.5H703M698 669.5H703M698 694.5H703M698 719.5H703M698 745.5H703M698 770.5H703M700 371.5H703M700 378.5H703M700 384.5H703M700 390.5H703M700 397.5H703M700 403.5H703M700 409.5H703M700 416.5H703M700 422.5H703M700 428.5H703M700 435.5H703M700 441.5H703M700 447.5H703M700 454.5H703M700 460.5H703M700 466.5H703M700 473.5H703M700 479.5H703M700 485.5H703M700 491.5H703M700 498.5H703M700 504.5H703M700 510.5H703M700 517.5H703M700 523.5H703M700 529.5H703M700 536.5H703M700 542.5H703M700 548.5H703M700 555.5H703M700 561.5H703M700 567.5H703M700 574.5H703M700 580.5H703M700 586.5H703M700 593.5H703M700 599.5H703M700 605.5H703M700 612.5H703M700 618.5H703M700 624.5H703M700 630.5H703M700 637.5H703M700 643.5H703M700 649.5H703M700 656.5H703M700 662.5H703M700 668.5H703M700 675.5H703M700 681.5H703M700 687.5H703M700 694.5H703M700 700.5H703M700 706.5H703M700 713.5H703M700 719.5H703M700 725.5H703M700 732.5H703M700 738.5H703M700 744.5H703M700 750.5H703M700 757.5H703M700 763.5H703M700 769.5H703M700 776.5H703M700 782.5H703M700 788.5H703M700 795.5H703" stroke="#909090" stroke-width="1" fill="none"/>
<path d="M709.5 796V801M731.5 796V801M754.5 796V801M776.5 796V801M798.5 796V801M820.5 796V801M842.5 796V801M864.5 796V801M886.5 796V801M908.5 796V801M930.5 796V801M952.5 796V801M974.5 796V801M997.5 796V801M1019.5 796V801M1041.5 796V801M1063.5 796V801M1085.5 796V801M1107.5 796V801M1129.5 796V801M1151.5 796V801M1173.5 796V801M1195.5 796V801M1217.5 796V801M1240.5 796V801M1262.5 796V801M1284.5 796V801M1306.5 796V801M1328.5 796V801M1350.5 796V801M1372.5 796V801M1394.5 796V801M1416.5 796V801M1438.5 796V801M1460.5 796V801M1483.5 796V801M1505.5 796V801M1527.5 796V801M1549.5 796V801M1571.5 796V801M1593.5 796V801M1615.5 796V801M1637.5 796V801M1659.5 796V801M1681.5 796V801M704.5 796V799M709.5 796V799M715.5 796V799M720.5 796V799M726.5 796V799M731.5 796V799M737.5 796V799M743.5 796V799M748.5 796V799M754.5 796V799M759.5 796V799M765.5 796V799M770.5 796V799M776.5 796V799M781.5 796V799M787.5 796V799M792.5 796V799M798.5 796V799M803.5 796V799M809.5 796V799M814.5 796V799M820.5 796V799M825.5 796V799M831.5 796V799M836.5 796V799M842.5 796V799M847.5 796V799M853.5 796V799M859.5 796V799M864.5 796V799M870.5 796V799M875.5 796V799M881.5 796V799M886.5 796V799M892.5 796V799M897.5 796V799M903.5 796V799M908.5 796V799M914.5 796V799M919.5 796V799M925.5 796V799M930.5 796V799M936.5 796V799M941.5 796V799M947.5 796V799M952.5 796V799M958.5 796V799M963.5 796V799M969.5 796V799M974.5 796V799M980.5 796V799M986.5 796V799M991.5 796V799M997.5 796V799M1002.5 796V799M1008.5 796V799M1013.5 796V799M1019.5 796V799M1024.5 796V799M1030.5 796V799M1035.5 796V799M1041.5 796V799M1046.5 796V799M1052.5 796V799M1057.5 796V799M1063.5 796V799M1068.5 796V799M1074.5 796V799M1079.5 796V799M1085.5 796V799M1090.5 796V799M1096.5 796V799M1101.5 796V799M1107.5 796V799M1113.5 796V799M1118.5 796V799M1124.5 796V799M1129.5 796V799M1135.5 796V799M1140.5 796V799M1146.5 796V799M1151.5 796V799M1157.5 796V799M1162.5 796V799M1168.5 796V799M1173.5 796V799M1179.5 796V799M1184.5 796V799M1190.5 796V799M1195.5 796V799M1201.5 796V799M1206.5 796V799M1212.5 796V799M1217.5 796V799M1223.5 796V799M1229.5 796V799M1234.5 796V799M1240.5 796V799M1245.5 796V799M1251.5 796V799M1256.5 796V799M1262.5 796V799M1267.5 796V799M1273.5 796V799M1278.5 796V799M1284.5 796V799M1289.5 796V799M1295.5 796V799M1300.5 796V799M1306.5 796V799M1311.5 796V799M1317.5 796V799M1322.5 796V799M1328.5 796V799M1333.5 796V799M1339.5 796V799M1344.5 796V799M1350.5 796V799M1356.5 796V799M1361.5 796V799M1367.5 796V799M1372.5 796V799M1378.5 796V799M1383.5 796V799M1389.5 796V799M1394.5 796V799M1400.5 796V799M1405.5 796V799M1411.5 796V799M1416.5 796V799M1422.5 796V799M1427.5 796V799M1433.5 796V799M1438.5 796V799M1444.5 796V799M1449.5 796V799M1455.5 796V799M1460.5 796V799M1466.5 796V799M1472.5 796V799M1477.5 796V799M1483.5 796V799M1488.5 796V799M1494.5 796V799M1499.5 796V799M1505.5 796V799M1510.5 796V799M1516.5 796V799M1521.5 796V799M1527.5 796V799M1532.5 796V799M1538.5 796V799M1543.5 796V799M1549.5 796V799M1554.5 796V799M1560.5 796V799M1565.5 796V799M1571.5 796V799M1576.5 796V799M1582.5 796V799M1587.5 796V799M1593.5 796V799M1599.5 796V799M1604.5 796V799M1610.5 796V799M1615.5 796V799M1621.5 796V799M1626.5 796V799M1632.5 796V799M1637.5 796V799M1643.5 796V799M1648.5 796V799M1654.5 796V799M1659.5 796V799M1665.5 796V799M1670.5 796V799M1676.5 796V799M1681.5 796V799" stroke="#909090" stroke-width="1" fill="none"/>
<path d="M703 370.75H1684" stroke="#000" stroke-width="1.5"/>
<path d="M1683.75 370V796" stroke="#000" stroke-width="1.5"/>
<path d="M704 370V796" stroke="#404040" stroke-width="2"/>
<path d="M703 795H1685" stroke="#404040" stroke-width="2"/>
<path d="M1473 794.5L1517.5 738.75L1562 794.5" stroke="#ff0000" stroke-width="2" fill="none"/>
<path d="M1562 794.5L1605.5 451" stroke="#800000" stroke-width="2" fill="none"/>
<path d="M1473 794.5L1517.5 623L1562 794.5L1605.5 565.75" stroke="#000000" stroke-width="2" fill="none"/>
<path d="M718.5 794.5L724.6 680.8L1424.3 794.5H1473L1517.5 565.5L1562 794.5L1605.5 622.5" stroke="#0000ff" stroke-width="2.4" fill="none" stroke-linejoin="miter"/>
<path d="M718.5 794.5H1605.5" stroke="#6a30c0" stroke-width="1.6" fill="none"/>
<text transform="scale(0.86 1)" x="766.58 776.49 782.86 791.00 799.14" y="394.10" font-family="Liberation Sans" font-size="12.71" fill="#000">0.003</text>
<text transform="scale(0.86 1)" x="766.58 776.49 782.86 791.00 799.14" y="419.41" font-family="Liberation Sans" font-size="12.71" fill="#000">0.003</text>
<text transform="scale(0.86 1)" x="766.58 776.49 782.86 791.00 799.14" y="444.71" font-family="Liberation Sans" font-size="12.71" fill="#000">0.003</text>
<text transform="scale(0.86 1)" x="766.58 776.49 782.86 791.00 799.14" y="470.02" font-family="Liberation Sans" font-size="12.71" fill="#000">0.003</text>
<text transform="scale(0.86 1)" x="766.58 776.49 782.86 791.00 799.14" y="495.33" font-family="Liberation Sans" font-size="12.71" fill="#000">0.002</text>
<text transform="scale(0.86 1)" x="766.58 776.49 782.86 791.00 799.14" y="520.63" font-family="Liberation Sans" font-size="12.71" fill="#000">0.002</text>
<text transform="scale(0.86 1)" x="766.58 776.49 782.86 791.00 799.14" y="545.94" font-family="Liberation Sans" font-size="12.71" fill="#000">0.002</text>
<text transform="scale(0.86 1)" x="766.58 776.49 782.86 791.00 799.14" y="571.25" font-family="Liberation Sans" font-size="12.71" fill="#000">0.002</text>
<text transform="scale(0.86 1)" x="766.58 776.49 782.86 791.00 799.14" y="596.56" font-family="Liberation Sans" font-size="12.71" fill="#000">0.002</text>
<text transform="scale(0.86 1)" x="766.58 776.49 782.86 791.00 799.14" y="621.86" font-family="Liberation Sans" font-size="12.71" fill="#000">0.001</text>
<text transform="scale(0.86 1)" x="766.58 776.49 782.86 791.00 799.14" y="647.17" font-family="Liberation Sans" font-size="12.71" fill="#000">0.001</text>
<text transform="scale(0.86 1)" x="766.58 776.49 782.86 791.00 799.14" y="672.48" font-family="Liberation Sans" font-size="12.71" fill="#000">0.001</text>
<text transform="scale(0.86 1)" x="766.58 776.49 782.86 791.00 799.14" y="697.78" font-family="Liberation Sans" font-size="12.71" fill="#000">0.001</text>
<text transform="scale(0.86 1)" x="766.58 776.49 782.86 791.00 799.14" y="723.09" font-family="Liberation Sans" font-size="12.71" fill="#000">0.001</text>
<text transform="scale(0.86 1)" x="799.14" y="748.40" font-family="Liberation Sans" font-size="12.71" fill="#000">0</text>
<text transform="scale(0.86 1)" x="799.14" y="773.70" font-family="Liberation Sans" font-size="12.71" fill="#000">0</text>
<text transform="translate(714.25 873.5) rotate(-90)" font-family="Liberation Sans" font-size="13.6" textLength="68.3" lengthAdjust="spacingAndGlyphs" fill="#000">2021/03/27</text>
<text transform="translate(736.34 873.5) rotate(-90)" font-family="Liberation Sans" font-size="13.6" textLength="68.3" lengthAdjust="spacingAndGlyphs" fill="#000">2021/03/27</text>
<text transform="translate(758.43 873.5) rotate(-90)" font-family="Liberation Sans" font-size="13.6" textLength="68.3" lengthAdjust="spacingAndGlyphs" fill="#000">2021/03/27</text>
<text transform="translate(780.52 873.5) rotate(-90)" font-family="Liberation Sans" font-size="13.6" textLength="68.3" lengthAdjust="spacingAndGlyphs" fill="#000">2021/03/27</text>
<text transform="translate(802.61 873.5) rotate(-90)" font-family="Liberation Sans" font-size="13.6" textLength="68.3" lengthAdjust="spacingAndGlyphs" fill="#000">2021/03/27</text>
<text transform="translate(824.70 873.5) rotate(-90)" font-family="Liberation Sans" font-size="13.6" textLength="68.3" lengthAdjust="spacingAndGlyphs" fill="#000">2021/03/27</text>
<text transform="translate(846.79 873.5) rotate(-90)" font-family="Liberation Sans" font-size="13.6" textLength="68.3" lengthAdjust="spacingAndGlyphs" fill="#000">2021/03/27</text>
<text transform="translate(868.88 873.5) rotate(-90)" font-family="Liberation Sans" font-size="13.6" textLength="68.3" lengthAdjust="spacingAndGlyphs" fill="#000">2021/03/27</text>
<text transform="translate(890.97 873.5) rotate(-90)" font-family="Liberation Sans" font-size="13.6" textLength="68.3" lengthAdjust="spacingAndGlyphs" fill="#000">2021/03/27</text>
<text transform="translate(913.06 873.5) rotate(-90)" font-family="Liberation Sans" font-size="13.6" textLength="68.3" lengthAdjust="spacingAndGlyphs" fill="#000">2021/03/27</text>
<text transform="translate(935.15 873.5) rotate(-90)" font-family="Liberation Sans" font-size="13.6" textLength="68.3" lengthAdjust="spacingAndGlyphs" fill="#000">2021/03/27</text>
<text transform="translate(957.24 873.5) rotate(-90)" font-family="Liberation Sans" font-size="13.6" textLength="68.3" lengthAdjust="spacingAndGlyphs" fill="#000">2021/03/27</text>
<text transform="translate(979.33 873.5) rotate(-90)" font-family="Liberation Sans" font-size="13.6" textLength="68.3" lengthAdjust="spacingAndGlyphs" fill="#000">2021/03/27</text>
<text transform="translate(1001.42 873.5) rotate(-90)" font-family="Liberation Sans" font-size="13.6" textLength="68.3" lengthAdjust="spacingAndGlyphs" fill="#000">2021/03/27</text>
<text transform="translate(1023.51 873.5) rotate(-90)" font-family="Liberation Sans" font-size="13.6" textLength="68.3" lengthAdjust="spacingAndGlyphs" fill="#000">2021/03/27</text>
<text transform="translate(1045.60 873.5) rotate(-90)" font-family="Liberation Sans" font-size="13.6" textLength="68.3" lengthAdjust="spacingAndGlyphs" fill="#000">2021/03/27</text>
<text transform="translate(1067.69 873.5) rotate(-90)" font-family="Liberation Sans" font-size="13.6" textLength="68.3" lengthAdjust="spacingAndGlyphs" fill="#000">2021/03/28</text>
<text transform="translate(1089.78 873.5) rotate(-90)" font-family="Liberation Sans" font-size="13.6" textLength="68.3" lengthAdjust="spacingAndGlyphs" fill="#000">2021/03/28</text>
<text transform="translate(1111.87 873.5) rotate(-90)" font-family="Liberation Sans" font-size="13.6" textLength="68.3" lengthAdjust="spacingAndGlyphs" fill="#000">2021/03/28</text>
<text transform="translate(1133.96 873.5) rotate(-90)" font-family="Liberation Sans" font-size="13.6" textLength="68.3" lengthAdjust="spacingAndGlyphs" fill="#000">2021/03/28</text>
<text transform="translate(1156.05 873.5) rotate(-90)" font-family="Liberation Sans" font-size="13.6" textLength="68.3" lengthAdjust="spacingAndGlyphs" fill="#000">2021/03/28</text>
<text transform="translate(1178.14 873.5) rotate(-90)" font-family="Liberation Sans" font-size="13.6" textLength="68.3" lengthAdjust="spacingAndGlyphs" fill="#000">2021/03/28</text>
<text transform="translate(1200.23 873.5) rotate(-90)" font-family="Liberation Sans" font-size="13.6" textLength="68.3" lengthAdjust="spacingAndGlyphs" fill="#000">2021/03/28</text>
<text transform="translate(1222.32 873.5) rotate(-90)" font-family="Liberation Sans" font-size="13.6" textLength="68.3" lengthAdjust="spacingAndGlyphs" fill="#000">2021/03/28</text>
<text transform="translate(1244.41 873.5) rotate(-90)" font-family="Liberation Sans" font-size="13.6" textLength="68.3" lengthAdjust="spacingAndGlyphs" fill="#000">2021/03/28</text>
<text transform="translate(1266.50 873.5) rotate(-90)" font-family="Liberation Sans" font-size="13.6" textLength="68.3" lengthAdjust="spacingAndGlyphs" fill="#000">2021/03/28</text>
<text transform="translate(1288.59 873.5) rotate(-90)" font-family="Liberation Sans" font-size="13.6" textLength="68.3" lengthAdjust="spacingAndGlyphs" fill="#000">2021/03/28</text>
<text transform="translate(1310.68 873.5) rotate(-90)" font-family="Liberation Sans" font-size="13.6" textLength="68.3" lengthAdjust="spacingAndGlyphs" fill="#000">2021/03/28</text>
<text transform="translate(1332.77 873.5) rotate(-90)" font-family="Liberation Sans" font-size="13.6" textLength="68.3" lengthAdjust="spacingAndGlyphs" fill="#000">2021/03/28</text>
<text transform="translate(1354.86 873.5) rotate(-90)" font-family="Liberation Sans" font-size="13.6" textLength="68.3" lengthAdjust="spacingAndGlyphs" fill="#000">2021/03/28</text>
<text transform="translate(1376.95 873.5) rotate(-90)" font-family="Liberation Sans" font-size="13.6" textLength="68.3" lengthAdjust="spacingAndGlyphs" fill="#000">2021/03/28</text>
<text transform="translate(1399.04 873.5) rotate(-90)" font-family="Liberation Sans" font-size="13.6" textLength="68.3" lengthAdjust="spacingAndGlyphs" fill="#000">2021/03/28</text>
<text transform="translate(1421.13 873.5) rotate(-90)" font-family="Liberation Sans" font-size="13.6" textLength="68.3" lengthAdjust="spacingAndGlyphs" fill="#000">2021/03/28</text>
<text transform="translate(1443.22 873.5) rotate(-90)" font-family="Liberation Sans" font-size="13.6" textLength="68.3" lengthAdjust="spacingAndGlyphs" fill="#000">2021/03/28</text>
<text transform="translate(1465.31 873.5) rotate(-90)" font-family="Liberation Sans" font-size="13.6" textLength="68.3" lengthAdjust="spacingAndGlyphs" fill="#000">2021/03/28</text>
<text transform="translate(1487.40 873.5) rotate(-90)" font-family="Liberation Sans" font-size="13.6" textLength="68.3" lengthAdjust="spacingAndGlyphs" fill="#000">2021/03/28</text>
<text transform="translate(1509.49 873.5) rotate(-90)" font-family="Liberation Sans" font-size="13.6" textLength="68.3" lengthAdjust="spacingAndGlyphs" fill="#000">2021/03/28</text>
<text transform="translate(1531.58 873.5) rotate(-90)" font-family="Liberation Sans" font-size="13.6" textLength="68.3" lengthAdjust="spacingAndGlyphs" fill="#000">2021/03/28</text>
<text transform="translate(1553.67 873.5) rotate(-90)" font-family="Liberation Sans" font-size="13.6" textLength="68.3" lengthAdjust="spacingAndGlyphs" fill="#000">2021/03/28</text>
<text transform="translate(1575.76 873.5) rotate(-90)" font-family="Liberation Sans" font-size="13.6" textLength="68.3" lengthAdjust="spacingAndGlyphs" fill="#000">2021/03/28</text>
<text transform="translate(1597.85 873.5) rotate(-90)" font-family="Liberation Sans" font-size="13.6" textLength="68.3" lengthAdjust="spacingAndGlyphs" fill="#000">2021/03/28</text>
<text transform="translate(1619.94 873.5) rotate(-90)" font-family="Liberation Sans" font-size="13.6" textLength="68.3" lengthAdjust="spacingAndGlyphs" fill="#000">2021/03/28</text>
<text transform="translate(1642.03 873.5) rotate(-90)" font-family="Liberation Sans" font-size="13.6" textLength="68.3" lengthAdjust="spacingAndGlyphs" fill="#000">2021/03/28</text>
<text transform="translate(1664.12 873.5) rotate(-90)" font-family="Liberation Sans" font-size="13.6" textLength="68.3" lengthAdjust="spacingAndGlyphs" fill="#000">2021/03/28</text>
<text transform="translate(1686.21 873.5) rotate(-90)" font-family="Liberation Sans" font-size="13.6" textLength="68.3" lengthAdjust="spacingAndGlyphs" fill="#000">2021/03/28</text>
<rect x="1726.5" y="394.5" width="100.5" height="193.0" rx="8" fill="#000"/>
<rect x="1723.5" y="391.5" width="100.5" height="193.0" rx="8" fill="#fff" stroke="#000" stroke-width="1"/>
<path d="M1728.3 404.4H1750.7" stroke="#ff0000" stroke-width="2"/>
<path d="M1728.3 428.4H1750.7" stroke="#800000" stroke-width="2"/>
<path d="M1728.3 452.4H1750.7" stroke="#008000" stroke-width="2"/>
<path d="M1728.3 476.4H1750.7" stroke="#00ffff" stroke-width="2"/>
<path d="M1728.3 500.4H1750.7" stroke="#00bfff" stroke-width="2"/>
<path d="M1728.3 524.4H1750.7" stroke="#0000ff" stroke-width="2"/>
<path d="M1728.3 548.4H1750.7" stroke="#000000" stroke-width="2"/>
<path d="M1728.3 572.4H1750.7" stroke="#9400d3" stroke-width="2"/>
</svg>
<div class="a" style="left:1756.40px;top:397.42px;font-family:'Liberation Mono';font-size:13.66px;line-height:15.48px;color:#000;transform:scale(0.8121,1.0000);transform-origin:0.0px 2.38px;">Compare1</div>
<div class="a" style="left:1756.40px;top:421.42px;font-family:'Liberation Mono';font-size:13.66px;line-height:15.48px;color:#000;transform:scale(0.8121,1.0000);transform-origin:0.0px 2.38px;">Compare2</div>
<div class="a" style="left:1756.40px;top:445.42px;font-family:'Liberation Mono';font-size:13.66px;line-height:15.48px;color:#000;transform:scale(0.8121,1.0000);transform-origin:0.0px 2.38px;">Compare3</div>
<div class="a" style="left:1757.90px;top:469.42px;font-family:'Liberation Mono';font-size:13.66px;line-height:15.48px;color:#000;transform:scale(0.8211,1.0000);transform-origin:0.0px 2.38px;">Sample1</div>
<div class="a" style="left:1757.90px;top:493.42px;font-family:'Liberation Mono';font-size:13.66px;line-height:15.48px;color:#000;transform:scale(0.8211,1.0000);transform-origin:0.0px 2.38px;">Sample2</div>
<div class="a" style="left:1757.90px;top:517.42px;font-family:'Liberation Mono';font-size:13.66px;line-height:15.48px;color:#000;transform:scale(0.8211,1.0000);transform-origin:0.0px 2.38px;">Sample3</div>
<div class="a" style="left:1756.40px;top:541.42px;font-family:'Liberation Mono';font-size:13.66px;line-height:15.48px;color:#000;transform:scale(0.8211,1.0000);transform-origin:0.0px 2.38px;">Compare</div>
<div class="a" style="left:1757.90px;top:565.42px;font-family:'Liberation Mono';font-size:13.66px;line-height:15.48px;color:#000;transform:scale(0.8163,1.0000);transform-origin:0.0px 2.38px;">Sample</div>
<div class="a" style="left:1174.00px;top:877.31px;font-family:'Liberation Serif';font-size:19.85px;line-height:21.99px;color:#000;letter-spacing:0.33px;">Date</div>
<svg class="a" style="left:620px;top:470px" width="40" height="230" viewBox="620 470 40 230">
<text transform="translate(637 478) rotate(90)" font-family="Liberation Serif" font-size="18.8" textLength="109.4" lengthAdjust="spacing" fill="#000">Degradation</text>
<text transform="translate(637 609) rotate(90)" font-family="Liberation Serif" font-size="18.8" textLength="37.0" lengthAdjust="spacing" fill="#000">Rate</text>
<text transform="translate(637 657.8) rotate(90)" font-family="Liberation Serif" font-size="18.8" textLength="28.2" lengthAdjust="spacing" fill="#000">(%)</text>
</svg>
<div class="a btn" style="left:37px;top:969px"></div>
<div class="a" style="left:77.00px;top:981.73px;font-family:'Liberation Serif';font-size:22.30px;line-height:24.69px;color:#fff;letter-spacing:1.00px;-webkit-text-stroke:0.5px #fff">Open</div>
<div class="a" style="left:77.00px;top:1004.73px;font-family:'Liberation Serif';font-size:22.30px;line-height:24.69px;color:#fff;letter-spacing:5.33px;-webkit-text-stroke:0.5px #fff">File</div>
<div class="a btn" style="left:210.3px;top:969px"></div>
<div class="a" style="left:250.30px;top:981.73px;font-family:'Liberation Serif';font-size:22.30px;line-height:24.69px;color:#fff;letter-spacing:2.67px;-webkit-text-stroke:0.5px #fff">Save</div>
<div class="a" style="left:250.30px;top:1004.73px;font-family:'Liberation Serif';font-size:22.30px;line-height:24.69px;color:#fff;letter-spacing:5.33px;-webkit-text-stroke:0.5px #fff">File</div>
<div class="a btn" style="left:384.2px;top:969px"></div>
<div class="a" style="left:410.00px;top:989.14px;font-family:'Liberation Serif';font-size:29.02px;line-height:32.13px;color:#fff;letter-spacing:3.32px;-webkit-text-stroke:0.6px #fff">Reset</div>
<svg class="a" style="left:605px;top:965px" width="65" height="55">
<defs><linearGradient id="scr" x1="0" y1="0" x2="0.3" y2="1"><stop offset="0" stop-color="#8eb0d8"/><stop offset="0.45" stop-color="#4a7cc0"/><stop offset="1" stop-color="#2a5aa0"/></linearGradient></defs>
<path d="M49 34L59 34L55 38L45 38Z" fill="#e8e8e8" stroke="#999" stroke-width="0.6"/>
<path d="M39 31L54 31L54 38L39 38Z" fill="#e4e4e4" stroke="#999" stroke-width="0.6"/>
<rect x="23.4" y="7" width="29.1" height="20" rx="2" fill="#f4f4f4" stroke="#9a9a9a" stroke-width="0.8"/>
<rect x="26" y="9.4" width="23.8" height="15" fill="url(#scr)"/>
<path d="M44 27L48 27L48 30L44 30Z" fill="#e8e8e8"/>
<path d="M38.5 37.5L53.5 37.5L54.5 41L38 41Z" fill="#eee" stroke="#999" stroke-width="0.6"/>
<path d="M37 45L46 35M41 49L50 40" stroke="#22dd22" stroke-width="1.1"/>
<rect x="8.8" y="18.3" width="29.6" height="19.9" rx="2" fill="#f4f4f4" stroke="#9a9a9a" stroke-width="0.8"/>
<rect x="11.3" y="20.6" width="24.5" height="15.3" fill="url(#scr)"/>
<path d="M18 38.2H30L31 41H17Z" fill="#e8e8e8" stroke="#aaa" stroke-width="0.5"/>
<path d="M10 43H37L39.4 47.5Q39 49.4 37 49.4H10Q8.3 49.4 8.3 47.5Z" fill="#eeeeee" stroke="#999" stroke-width="0.7"/>
</svg>
<div class="a" style="left:598.70px;top:1034.97px;font-family:'Liberation Serif';font-size:22.14px;line-height:24.52px;color:#000;letter-spacing:3.36px;-webkit-text-stroke:0.45px #000">Online</div>
</body></html>
